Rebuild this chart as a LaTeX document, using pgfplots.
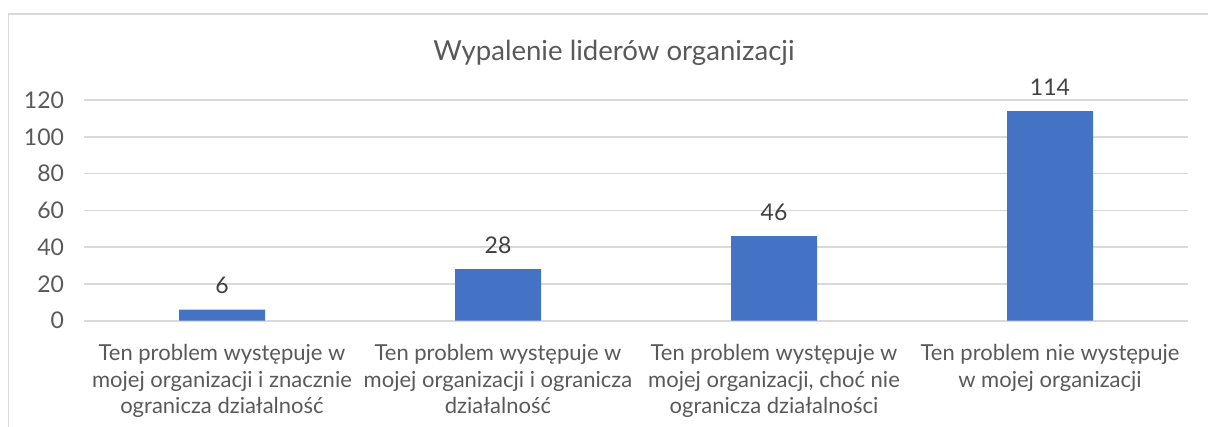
\documentclass[border=0pt]{standalone}
\usepackage{pgfplots}
\pgfplotsset{compat=1.18}
\usepackage{fontspec}
\setmainfont{Lato}
\definecolor{barblue}{HTML}{4472C4}
\definecolor{txtgray}{HTML}{595959}
\definecolor{lblgray}{HTML}{404040}
\definecolor{gridgray}{HTML}{D9D9D9}
\begin{document}
\begin{tikzpicture}
\path[use as bounding box] (0,0) rectangle (604pt,-213.5pt);
\draw[gridgray, line width=0.8pt] (4.2pt,-214pt) -- (4.2pt,-7pt) -- (605pt,-7pt);
\node[txtgray, font=\fontsize{13.8}{16}\selectfont, anchor=base] at (307pt,-30.5pt) {Wypalenie liderów organizacji};
\begin{axis}[
  at={(42pt,-160.35pt)}, anchor=south west,
  scale only axis, width=552pt, height=110.35pt,
  xmin=-0.5, xmax=3.5, ymin=0, ymax=120,
  ytick={0,20,...,120}, xtick={0,1,2,3},
  xticklabels={
    {Ten problem występuje w\\mojej organizacji i znacznie\\ogranicza działalność},
    {Ten problem występuje w\\mojej organizacji i ogranicza\\działalność},
    {Ten problem występuje w\\mojej organizacji, choć nie\\ogranicza działalności},
    {Ten problem nie występuje\\w mojej organizacji}},
  xticklabel style={align=center, text=txtgray, font=\fontsize{11}{13.2}\selectfont, yshift=-8.5pt},
  yticklabel style={text=txtgray, font=\fontsize{11.5}{13}\selectfont, xshift=-6.5pt},
  /pgf/number format/assume math mode=true,
  ymajorgrids, grid style={gridgray, line width=0.8pt},
  axis line style={draw=none}, major tick length=0pt,
  ybar, bar width=43pt,
  nodes near coords,
  every node near coord/.append style={anchor=center, yshift=12pt, text=lblgray, font=\fontsize{11.5}{13}\selectfont},
  clip=false,
]
\addplot[fill=barblue, draw=none] coordinates {(0,6) (1,28) (2,46) (3,114)};
\end{axis}
\end{tikzpicture}
\end{document}
